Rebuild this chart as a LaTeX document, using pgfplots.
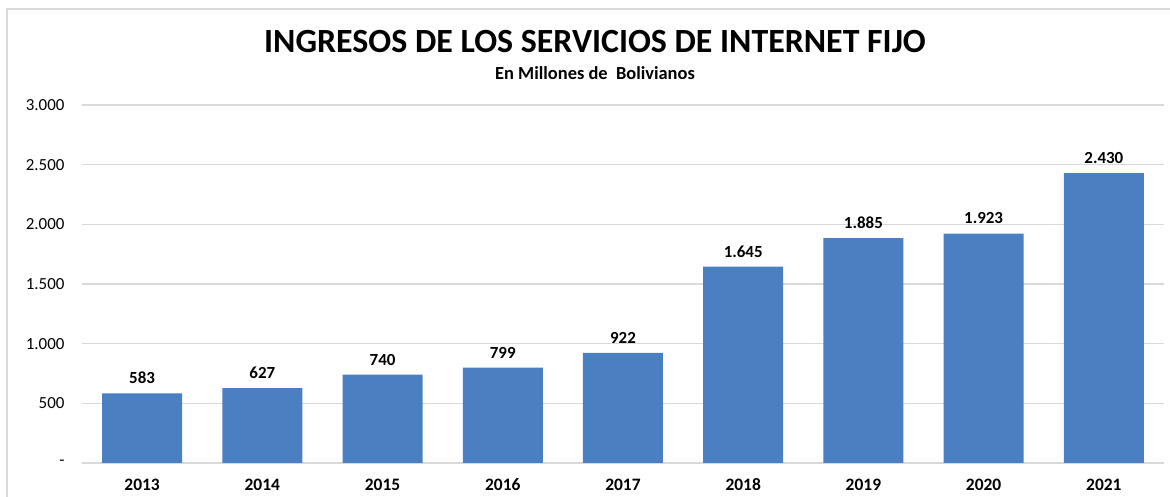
\documentclass[border=0pt]{standalone}
\usepackage{pgfplots}
\pgfplotsset{compat=1.18}
\usepackage{fontspec}
\setmainfont{Carlito}
\definecolor{barblue}{HTML}{4A7FC1}
\definecolor{gridgray}{HTML}{D9D9D9}
\begin{document}
\begin{tikzpicture}[x=1bp,y=1bp]
\path[use as bounding box] (0,0) rectangle (1170,497);
\draw[gridgray, line width=1.5bp] (7,-5) -- (7,488) -- (1180,488);
\node[font=\fontsize{34}{40}\selectfont\bfseries] at (595,455) {INGRESOS DE LOS SERVICIOS DE INTERNET FIJO};
\node[font=\fontsize{18.5}{22}\selectfont\bfseries] at (595,424) {En Millones de\ \ Bolivianos};
\begin{axis}[
  at={(82bp,34bp)}, anchor=south west,
  scale only axis, width=1082bp, height=358bp,
  xmin=-0.5, xmax=8.5, ymin=0, ymax=3000,
  axis line style={draw=none},
  ytick={0,500,1000,1500,2000,2500,3000},
  yticklabels={-,500,1.000,1.500,2.000,2.500,3.000},
  xtick={0,...,8},
  xticklabels={2013,2014,2015,2016,2017,2018,2019,2020,2021},
  major tick length=0pt,
  ymajorgrids, grid style={gridgray, line width=1.2bp},
  ticklabel style={font=\fontsize{17}{20}\selectfont},
  xticklabel style={font=\fontsize{17.5}{20}\selectfont\bfseries, text height=12bp, text depth=0bp, yshift=-12bp},
  yticklabel style={xshift=-14bp},
  /pgf/number format/assume math mode=true,
  /pgf/number format/1000 sep={.},
  ybar, bar width=80bp,
  nodes near coords,
  nodes near coords style={font=\fontsize{17}{20}\selectfont\bfseries, yshift=6bp},
  clip=false,
]
\addplot[fill=barblue, draw=none] coordinates {(0,583) (1,627) (2,740) (3,799) (4,922) (5,1645) (6,1885) (7,1923) (8,2430)};
\end{axis}
\end{tikzpicture}
\end{document}
